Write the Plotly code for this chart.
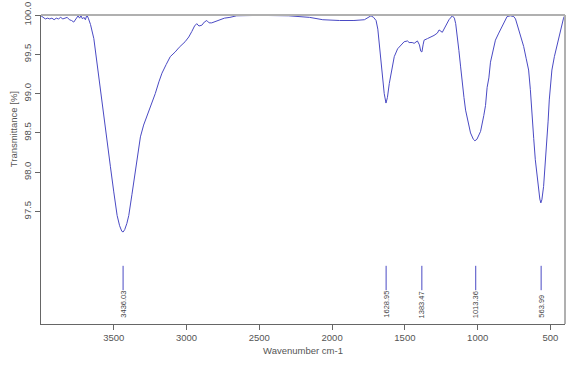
import plotly.graph_objects as go

wavenumber = [4000, 3985, 3970, 3955, 3940, 3925, 3910, 3895, 3880, 3865, 3850, 3835, 3820, 3805, 3790,
              3775, 3760, 3745, 3735, 3725, 3715, 3705, 3695, 3685, 3675, 3660, 3637, 3620, 3603, 3585,
              3568, 3545, 3523, 3500, 3477, 3460, 3445, 3436, 3425, 3410, 3397, 3375, 3352, 3335, 3317,
              3295, 3272, 3245, 3215, 3190, 3169, 3140, 3112, 3078, 3050, 3010, 2985, 2964, 2945, 2930,
              2915, 2895, 2878, 2861, 2845, 2827, 2800, 2770, 2740, 2702, 2656, 2500, 2300, 2155, 2064,
              1949, 1850, 1778, 1750, 1733, 1715, 1698, 1686, 1676, 1665, 1653, 1642, 1630, 1620, 1607,
              1590, 1573, 1550, 1527, 1505, 1482, 1471, 1450, 1436, 1414, 1400, 1391, 1383, 1375, 1368,
              1345, 1322, 1300, 1277, 1265, 1243, 1220, 1197, 1174, 1160, 1151, 1140, 1129, 1117, 1106,
              1094, 1083, 1066, 1049, 1030, 1019, 1005, 992, 980, 958, 946, 935, 923, 912, 895,
              878, 855, 833, 815, 798, 775, 752, 740, 730, 707, 684, 667, 650, 638, 627,
              615, 604, 592, 581, 573, 566, 559, 547, 535, 525, 516, 508, 499, 490, 473,
              456, 440, 426, 410, 400]
transmittance = [99.99, 99.97, 99.95, 99.96, 99.95, 99.96, 99.94, 99.96, 99.95, 99.97, 99.95, 99.96, 99.97, 99.94, 99.93,
                 99.91, 99.95, 99.99, 99.96, 99.99, 99.95, 99.97, 99.94, 100.0, 99.96, 99.88, 99.70, 99.45, 99.21, 98.95,
                 98.66, 98.38, 98.07, 97.75, 97.45, 97.32, 97.25, 97.24, 97.27, 97.35, 97.45, 97.72, 98.03, 98.25, 98.45,
                 98.60, 98.71, 98.85, 99.00, 99.15, 99.26, 99.37, 99.47, 99.53, 99.59, 99.66, 99.72, 99.79, 99.86, 99.89,
                 99.86, 99.87, 99.91, 99.93, 99.90, 99.90, 99.92, 99.94, 99.96, 99.97, 99.99, 99.995, 99.99, 99.97, 99.94,
                 99.93, 99.93, 99.94, 99.97, 99.99, 99.97, 99.93, 99.82, 99.64, 99.42, 99.21, 99.00, 98.88, 98.95, 99.13,
                 99.33, 99.47, 99.57, 99.62, 99.66, 99.67, 99.65, 99.65, 99.64, 99.67, 99.62, 99.54, 99.53, 99.62, 99.68,
                 99.70, 99.72, 99.74, 99.77, 99.81, 99.78, 99.86, 99.94, 99.99, 99.96, 99.89, 99.75, 99.55, 99.34, 99.13,
                 98.95, 98.79, 98.63, 98.50, 98.42, 98.40, 98.42, 98.47, 98.52, 98.72, 98.85, 99.08, 99.20, 99.40, 99.56,
                 99.68, 99.77, 99.85, 99.93, 99.98, 99.99, 99.98, 99.95, 99.89, 99.75, 99.60, 99.45, 99.30, 99.05, 98.71,
                 98.43, 98.16, 97.95, 97.77, 97.66, 97.61, 97.65, 97.82, 98.10, 98.37, 98.65, 98.92, 99.15, 99.30, 99.47,
                 99.60, 99.73, 99.85, 99.96, 100.0]

peaks = [3436.03, 1628.95, 1383.47, 1013.36, 563.99]
peak_labels = ["3436.03", "1628.95", "1383.47", "1013.36", "563.99"]

x_ticks = [3500, 3000, 2500, 2000, 1500, 1000, 500]
y_ticks = [97.5, 98.0, 98.5, 99.0, 99.5, 100.0]

LINE = "#4a4ac4"
TXT = "#555555"
FONT = "Liberation Sans, Arial, sans-serif"

fig = go.Figure()
fig.add_trace(go.Scatter(x=wavenumber, y=transmittance, mode="lines",
                         line=dict(color=LINE, width=1), hoverinfo="skip", showlegend=False))

# peak marker ticks
px, py = [], []
for p in peaks:
    px += [p, p, None]
    py += [96.81, 96.50, None]
fig.add_trace(go.Scatter(x=px, y=py, mode="lines", line=dict(color=LINE, width=1),
                         hoverinfo="skip", showlegend=False))

annotations = []
for p, lab in zip(peaks, peak_labels):
    annotations.append(dict(x=p, y=96.12, xref="x", yref="y", text=lab, showarrow=False,
                            textangle=-90, xanchor="center", yanchor="bottom",
                            font=dict(family=FONT, size=7.5, color="#444444")))
annotations.append(dict(x=-0.053, y=98.55, xref="paper", yref="y", text="Transmittance [%]",
                        showarrow=False, textangle=-90, xanchor="center", yanchor="middle",
                        font=dict(family=FONT, size=9.5, color=TXT)))

fig.update_layout(
    width=573, height=369,
    margin=dict(l=41, r=8, t=15, b=45),
    paper_bgcolor="white", plot_bgcolor="white",
    annotations=annotations,
    shapes=[
        dict(type="line", xref="paper", yref="paper", x0=0, x1=1, y0=1, y1=1,
             line=dict(color="#b0b0b0", width=2)),
        dict(type="line", xref="paper", yref="paper", x0=1, x1=1, y0=0, y1=1,
             line=dict(color="#b0b0b0", width=2)),
    ],
    xaxis=dict(range=[4000, 400], tickvals=x_ticks, ticktext=[str(v) for v in x_ticks],
               showgrid=False, zeroline=False, showline=True, linecolor="#666666", linewidth=1,
               ticks="outside", ticklen=5, tickcolor="#666666", automargin=False,
               tickfont=dict(family=FONT, size=9.5, color=TXT),
               title=dict(text="Wavenumber cm-1", font=dict(family=FONT, size=9.5, color=TXT), standoff=4)),
    yaxis=dict(range=[96.07, 100.0], tickvals=y_ticks, ticktext=["%.1f" % v for v in y_ticks],
               showgrid=False, zeroline=False, showline=True, linecolor="#666666", linewidth=1,
               ticks="outside", ticklen=5, tickcolor="#666666", tickangle=-90, automargin=False,
               tickfont=dict(family=FONT, size=9.5, color=TXT)),
)

fig.write_html("out.html", config={"displayModeBar": False},
               post_script="document.body.style.margin='0';document.body.style.overflow='hidden';")
